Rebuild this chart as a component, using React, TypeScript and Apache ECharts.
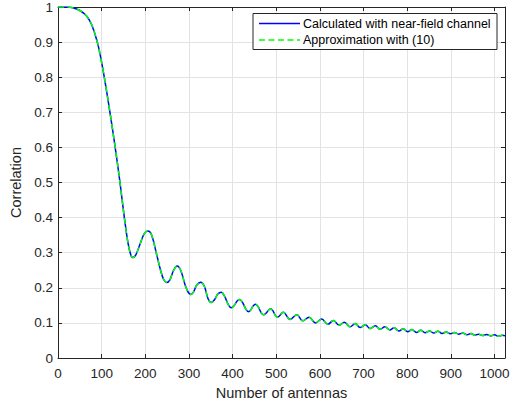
import React, { useEffect, useRef } from 'react';
import * as echarts from 'echarts';

const antennaCounts = [
  0, 20, 34, 50, 65, 77, 90, 98, 106, 119, 131, 142, 152, 160, 166, 171, 178, 188, 198, 206,
  214, 225, 235, 242, 249, 256, 265, 273, 281, 292, 298, 304, 310, 318, 327, 335, 344, 351,
  358, 366, 374, 382, 390, 397, 404, 410, 416, 422, 430, 436, 442, 447, 452, 458, 466, 471,
  477, 482, 487, 503, 516, 532, 547, 561, 575, 590, 604, 618, 631, 644, 656, 669, 681, 692,
  704, 715, 727, 738, 749, 760, 770, 781, 791, 801, 811, 821, 831, 841, 851, 861, 870, 880,
  889, 899, 908, 918, 927, 937, 946, 955, 964, 973, 982, 991, 1000, 1009, 1018, 1024,
];

const calculatedCorr = [
  1, 1.0, 0.998, 0.99, 0.975, 0.95, 0.9, 0.855, 0.8, 0.7, 0.6, 0.5, 0.4, 0.33, 0.297, 0.286,
  0.293, 0.325, 0.355, 0.362, 0.352, 0.3, 0.25, 0.224, 0.215, 0.222, 0.25, 0.262, 0.25, 0.205,
  0.188, 0.181, 0.187, 0.208, 0.216, 0.205, 0.168, 0.158, 0.165, 0.182, 0.187, 0.175, 0.152,
  0.143, 0.15, 0.162, 0.167, 0.16, 0.14, 0.132, 0.138, 0.148, 0.153, 0.147, 0.128, 0.123,
  0.128, 0.136, 0.14, 0.116, 0.13, 0.11, 0.123, 0.106, 0.116, 0.1, 0.111, 0.096, 0.107, 0.093,
  0.102, 0.089, 0.098, 0.087, 0.095, 0.084, 0.092, 0.082, 0.089, 0.08, 0.086, 0.077, 0.083,
  0.075, 0.081, 0.073, 0.079, 0.072, 0.077, 0.071, 0.076, 0.07, 0.074, 0.069, 0.073, 0.068,
  0.071, 0.066, 0.07, 0.065, 0.068, 0.064, 0.067, 0.063, 0.066, 0.062, 0.065, 0.063,
];

const approxCorr = [
  1, 1.0, 0.998, 0.99, 0.975, 0.95, 0.9, 0.855, 0.8, 0.7, 0.6, 0.5, 0.4, 0.33, 0.297, 0.286,
  0.293, 0.325, 0.355, 0.362, 0.352, 0.3, 0.25, 0.224, 0.215, 0.222, 0.25, 0.262, 0.25, 0.205,
  0.188, 0.181, 0.187, 0.208, 0.216, 0.205, 0.168, 0.158, 0.165, 0.182, 0.187, 0.175, 0.152,
  0.143, 0.15, 0.162, 0.167, 0.16, 0.14, 0.132, 0.138, 0.148, 0.153, 0.147, 0.128, 0.123,
  0.128, 0.136, 0.14, 0.116, 0.13, 0.11, 0.123, 0.106, 0.116, 0.1, 0.111, 0.096, 0.107, 0.093,
  0.102, 0.089, 0.098, 0.087, 0.095, 0.084, 0.092, 0.082, 0.089, 0.08, 0.086, 0.077, 0.083,
  0.075, 0.081, 0.073, 0.079, 0.072, 0.077, 0.071, 0.076, 0.07, 0.074, 0.069, 0.073, 0.068,
  0.071, 0.066, 0.07, 0.065, 0.068, 0.064, 0.067, 0.063, 0.066, 0.062, 0.065, 0.063,
];

const seriesNames = ['Calculated with near-field channel', 'Approximation with (10)'];
const xTitle = 'Number of antennas';
const yTitle = 'Correlation';

export default function App() {
  const ref = useRef<HTMLDivElement>(null);
  useEffect(() => {
    const chart = echarts.init(ref.current!, null, { renderer: 'svg' });
    const font = '"Liberation Sans", Arial, Helvetica, sans-serif';
    const axisColor = '#262626';
    const gridColor = '#e3e3e3';
    const blue = '#0000ff';
    const green = '#00ff00';
    const dash = [6, 3.5];
    const tickFont = 13.5;
    const titleFont = 14.5;
    const legendFont = 12.5;
    const baseX = {
      type: 'value',
      min: 0,
      max: 1024,
      interval: 100,
      axisLine: { show: true, onZero: false, lineStyle: { color: axisColor, width: 1 } },
      axisTick: { show: true, inside: true, length: 4, lineStyle: { color: axisColor, width: 1 } },
      splitLine: { show: false },
    };
    const baseY = {
      type: 'value',
      min: 0,
      max: 1,
      interval: 0.1,
      axisLine: { show: true, onZero: false, lineStyle: { color: axisColor, width: 1 } },
      axisTick: { show: true, inside: true, length: 4, lineStyle: { color: axisColor, width: 1 } },
      splitLine: { show: false },
    };
    const legX = 253;
    const legY = 13.5;
    const legW = 244;
    const legH = 36;
    const row1 = 23.5;
    const row2 = 40;
    chart.setOption({
      animation: false,
      backgroundColor: '#ffffff',
      textStyle: { fontFamily: font },
      grid: { left: 58, right: 13, top: 5, bottom: 52, containLabel: false },
      xAxis: [
        {
          ...baseX,
          position: 'bottom',
          name: xTitle,
          nameLocation: 'middle',
          nameGap: 27,
          nameTextStyle: { fontFamily: font, fontSize: titleFont, color: axisColor },
          axisLabel: {
            show: true,
            margin: 8,
            fontFamily: font,
            fontSize: tickFont,
            color: axisColor,
            showMaxLabel: false,
            formatter: (v: number) => String(v),
          },
          splitLine: { show: true, lineStyle: { color: gridColor, width: 1 } },
        },
        {
          ...baseX,
          position: 'top',
          axisLabel: { show: false },
        },
      ],
      yAxis: [
        {
          ...baseY,
          position: 'left',
          name: yTitle,
          nameLocation: 'middle',
          nameGap: 32,
          nameRotate: 90,
          nameTextStyle: { fontFamily: font, fontSize: titleFont, color: axisColor },
          axisLabel: {
            show: true,
            margin: 5,
            fontFamily: font,
            fontSize: tickFont,
            color: axisColor,
            formatter: (v: number) => String(Number(v.toFixed(1))),
          },
          splitLine: { show: true, lineStyle: { color: gridColor, width: 1 } },
        },
        {
          ...baseY,
          position: 'right',
          axisLabel: { show: false },
        },
      ],
      series: [
        {
          name: seriesNames[0],
          type: 'line',
          xAxisIndex: 0,
          yAxisIndex: 0,
          data: antennaCounts.map((x, i) => [x, calculatedCorr[i]]),
          showSymbol: false,
          symbol: 'none',
          smooth: 0.4,
          lineStyle: { color: blue, width: 1.5 },
          itemStyle: { color: blue },
        },
        {
          name: seriesNames[1],
          type: 'line',
          xAxisIndex: 0,
          yAxisIndex: 0,
          data: antennaCounts.map((x, i) => [x, approxCorr[i]]),
          showSymbol: false,
          symbol: 'none',
          smooth: 0.4,
          lineStyle: { color: green, width: 1.5, type: dash },
          itemStyle: { color: green },
        },
      ],
      graphic: [
        {
          type: 'rect',
          z: 100,
          shape: { x: legX, y: legY, width: legW, height: legH },
          style: { fill: '#ffffff', stroke: axisColor, lineWidth: 1 },
        },
        {
          type: 'line',
          z: 101,
          shape: { x1: legX + 6, y1: row1, x2: legX + 47, y2: row1 },
          style: { stroke: blue, lineWidth: 1.5 },
        },
        {
          type: 'line',
          z: 101,
          shape: { x1: legX + 6, y1: row2, x2: legX + 47, y2: row2 },
          style: { stroke: green, lineWidth: 1.5, lineDash: dash },
        },
        {
          type: 'text',
          z: 101,
          x: legX + 50,
          y: row1,
          style: {
            text: seriesNames[0],
            fill: '#000000',
            font: `${legendFont}px ${font}`,
            verticalAlign: 'middle',
            align: 'left',
          },
        },
        {
          type: 'text',
          z: 101,
          x: legX + 50,
          y: row2,
          style: {
            text: seriesNames[1],
            fill: '#000000',
            font: `${legendFont}px ${font}`,
            verticalAlign: 'middle',
            align: 'left',
          },
        },
      ],
    });
    return () => chart.dispose();
  }, []);
  return (
    <div
      ref={ref}
      style={{ position: 'fixed', left: 0, top: 0, width: 518, height: 410, background: '#ffffff' }}
    />
  );
}
